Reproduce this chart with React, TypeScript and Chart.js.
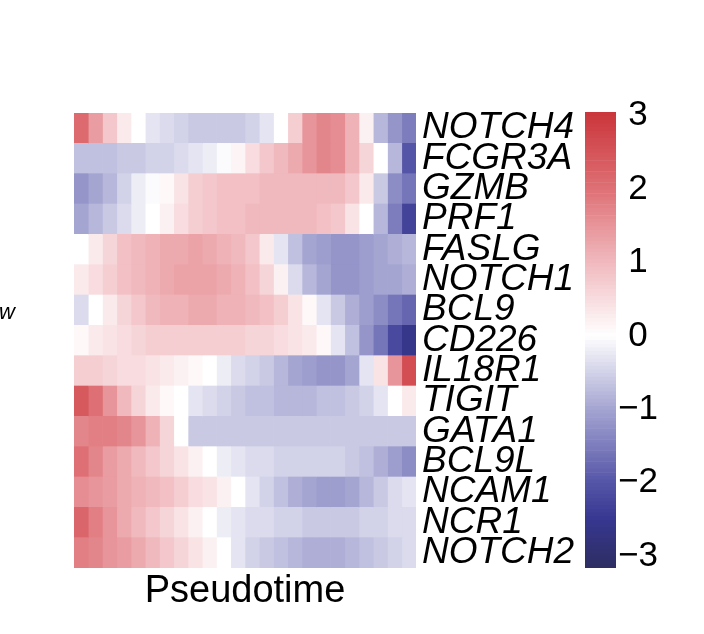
import React, { useEffect, useRef } from "react";
import { Chart, registerables } from "chart.js";

Chart.register(...registerables);

const FONT = '"Liberation Sans", Arial, Helvetica, sans-serif';

const genes = ["NOTCH4", "FCGR3A", "GZMB", "PRF1", "FASLG", "NOTCH1", "BCL9", "CD226", "IL18R1", "TIGIT", "GATA1", "BCL9L", "NCAM1", "NCR1", "NOTCH2"];

const NOTCH4 = [2.1, 1.4, 0.8, 0.3, 0, -0.3, -0.4, -0.5, -0.6, -0.6, -0.6, -0.6, -0.5, -0.3, 0.0, 0.7, 1.5, 1.7, 1.6, 1.1, 0.2, -0.8, -1.2, -1.5];
const FCGR3A = [-0.7, -0.7, -0.7, -0.6, -0.6, -0.5, -0.5, -0.4, -0.3, -0.2, -0.05, 0.15, 0.5, 0.8, 1.0, 1.2, 1.5, 1.7, 1.6, 1.1, 0.6, 0, -0.8, -2.0];
const GZMB = [-1.2, -1.0, -0.8, -0.5, -0.2, -0.05, 0.1, 0.4, 0.7, 0.8, 0.9, 0.9, 0.9, 1.0, 1.0, 1.0, 1.0, 1.0, 1.0, 0.8, 0.3, -0.6, -1.3, -1.6];
const PRF1 = [-1.0, -0.8, -0.6, -0.4, -0.2, 0, 0.2, 0.5, 0.7, 0.8, 0.9, 0.9, 1.0, 1.0, 1.0, 1.0, 1.0, 0.9, 0.8, 0.4, 0, -0.8, -1.5, -2.3];
const FASLG = [0, 0.3, 0.6, 0.9, 1.0, 1.1, 1.2, 1.2, 1.3, 1.2, 1.1, 1.0, 0.8, 0.3, -0.3, -0.7, -1.0, -1.1, -1.2, -1.2, -1.1, -1.0, -0.9, -0.8];
const NOTCH1 = [0.3, 0.5, 0.7, 0.9, 1.0, 1.1, 1.2, 1.3, 1.3, 1.3, 1.2, 1.1, 0.9, 0.6, 0.2, -0.4, -0.8, -1.0, -1.2, -1.2, -1.1, -1.0, -1.0, -0.9];
const BCL9 = [-0.4, 0, 0.3, 0.6, 0.8, 1.0, 1.1, 1.1, 1.2, 1.2, 1.1, 1.1, 1.0, 0.9, 0.7, 0.4, 0.1, -0.3, -0.6, -0.9, -1.1, -1.3, -1.6, -1.8];
const CD226 = [0.1, 0.3, 0.4, 0.5, 0.6, 0.7, 0.7, 0.7, 0.7, 0.7, 0.7, 0.7, 0.6, 0.6, 0.5, 0.4, 0.3, 0.1, -0.3, -0.7, -1.2, -1.6, -2.2, -2.6];
const IL18R1 = [0.7, 0.7, 0.6, 0.5, 0.5, 0.4, 0.3, 0.2, 0.1, 0, -0.2, -0.4, -0.5, -0.6, -0.8, -1.0, -1.1, -1.2, -1.2, -1.0, -0.3, 0.4, 1.5, 2.6];
const TIGIT = [2.4, 2.0, 1.5, 1.0, 0.6, 0.3, 0.1, 0, -0.3, -0.4, -0.5, -0.6, -0.7, -0.7, -0.8, -0.8, -0.8, -0.7, -0.7, -0.6, -0.5, -0.3, 0, 0.3];
const GATA1 = [1.7, 1.8, 1.8, 1.7, 1.5, 1.1, 0.6, 0, -0.6, -0.6, -0.6, -0.6, -0.6, -0.6, -0.6, -0.6, -0.6, -0.6, -0.6, -0.6, -0.6, -0.6, -0.6, -0.6];
const BCL9L = [2.0, 1.7, 1.4, 1.2, 1.0, 0.8, 0.6, 0.4, 0.2, 0, -0.2, -0.3, -0.4, -0.4, -0.5, -0.5, -0.5, -0.5, -0.5, -0.6, -0.7, -0.9, -1.1, -1.3];
const NCAM1 = [1.6, 1.5, 1.4, 1.2, 1.1, 1.0, 0.9, 0.7, 0.5, 0.4, 0.2, 0, -0.3, -0.5, -0.7, -0.9, -1.0, -1.1, -1.1, -1.0, -0.8, -0.6, -0.4, -0.3];
const NCR1 = [2.2, 1.8, 1.5, 1.2, 1.0, 0.8, 0.6, 0.4, 0.2, 0, -0.2, -0.3, -0.4, -0.4, -0.5, -0.5, -0.6, -0.6, -0.6, -0.6, -0.5, -0.5, -0.4, -0.4];
const NOTCH2 = [1.8, 1.7, 1.5, 1.4, 1.2, 1.0, 0.8, 0.6, 0.4, 0.2, 0, -0.3, -0.5, -0.6, -0.7, -0.8, -0.9, -0.9, -0.9, -0.8, -0.7, -0.6, -0.5, -0.4];

const rows = [NOTCH4, FCGR3A, GZMB, PRF1, FASLG, NOTCH1, BCL9, CD226, IL18R1, TIGIT, GATA1, BCL9L, NCAM1, NCR1, NOTCH2];

const colorTicks = [-3, -2, -1, 0, 1, 2, 3];
const colorMin = -3.16;
const colorMax = 3.05;

const stops: [number, number[]][] = [
  [-3.2, [45, 45, 95]],
  [-2.5, [55, 55, 145]],
  [-2, [85, 85, 168]],
  [-1, [165, 165, 210]],
  [0, [255, 255, 255]],
  [1, [240, 185, 190]],
  [2, [222, 112, 117]],
  [3.1, [200, 50, 55]],
];

function colorFor(v: number): string {
  if (v <= stops[0][0]) return `rgb(${stops[0][1].join(",")})`;
  for (let i = 1; i < stops.length; i++) {
    if (v <= stops[i][0]) {
      const [a, ca] = stops[i - 1];
      const [b, cb] = stops[i];
      const t = (v - a) / (b - a);
      const c = ca.map((x, k) => Math.round(x + (cb[k] - x) * t));
      return `rgb(${c.join(",")})`;
    }
  }
  return `rgb(${stops[stops.length - 1][1].join(",")})`;
}

function Heatmap() {
  const ref = useRef<HTMLCanvasElement>(null);
  useEffect(() => {
    const nCol = rows[0].length;
    const datasets = Array.from({ length: nCol }, (_, j) => ({
      label: `bin${j + 1}`,
      data: genes.map(() => 1),
      backgroundColor: rows.map((r) => colorFor(r[j])),
      borderWidth: 0,
      barPercentage: 1,
      categoryPercentage: 1,
    }));
    const chart = new Chart(ref.current!, {
      type: "bar",
      data: { labels: genes, datasets },
      options: {
        indexAxis: "y",
        animation: false,
        responsive: false,
        layout: { padding: { left: 74, top: 113, right: 118, bottom: 20 } },
        plugins: { legend: { display: false }, tooltip: { enabled: false } },
        scales: {
          x: {
            stacked: true,
            min: 0,
            max: nCol,
            grid: { display: false, drawTicks: false },
            border: { display: false },
            ticks: { display: false },
            title: {
              display: true,
              text: "Pseudotime",
              color: "#000",
              font: { family: FONT, size: 38 },
              padding: 0,
            },
            afterFit: (s: any) => {
              s.height = 46;
            },
          },
          y: {
            stacked: true,
            position: "right",
            grid: { display: false, drawTicks: false },
            border: { display: false },
            ticks: {
              color: "#000",
              padding: 6,
              autoSkip: false,
              font: { family: FONT, size: 37, style: "italic" },
            },
            afterFit: (s: any) => {
              s.width = 170;
            },
          },
        },
      },
    } as any);
    return () => chart.destroy();
  }, []);
  return <canvas ref={ref} width={704} height={634} />;
}

function ColorBar() {
  const ref = useRef<HTMLCanvasElement>(null);
  useEffect(() => {
    const step = 0.05;
    const segs: number[] = [];
    for (let v = colorMin; v < colorMax; v += step) segs.push(v);
    const datasets = segs.map((v) => ({
      data: [[v, Math.min(v + step, colorMax)]],
      backgroundColor: colorFor(v + step / 2),
      borderWidth: 0,
      barPercentage: 1,
      categoryPercentage: 1,
      grouped: false,
    }));
    const chart = new Chart(ref.current!, {
      type: "bar",
      data: { labels: ["scale"], datasets },
      options: {
        animation: false,
        responsive: false,
        layout: { padding: { left: 0, top: 112, right: 0, bottom: 66 } },
        plugins: { legend: { display: false }, tooltip: { enabled: false } },
        scales: {
          x: { display: false },
          y: {
            position: "right",
            min: colorMin,
            max: colorMax,
            grid: { display: false, drawTicks: false },
            border: { display: false },
            afterBuildTicks: (s: any) => {
              s.ticks = colorTicks.map((v) => ({ value: v }));
            },
            ticks: {
              color: "#000",
              padding: 2,
              crossAlign: "center",
              font: { family: FONT, size: 35 },
              callback: (v: any) => (Number(v) < 0 ? "\u2212" + Math.abs(Number(v)) : String(v)),
            },
            afterFit: (s: any) => {
              s.width = 88;
            },
          },
        },
      },
    } as any);
    return () => chart.destroy();
  }, []);
  return <canvas ref={ref} width={119} height={634} />;
}

export default function App() {
  return (
    <div style={{ position: "absolute", left: 0, top: 0, width: 704, height: 634, background: "#fff", overflow: "hidden" }}>
      <div style={{ position: "absolute", left: 0, top: 0 }}>
        <Heatmap />
      </div>
      <div style={{ position: "absolute", left: 585, top: 0 }}>
        <ColorBar />
      </div>
      <div
        style={{
          position: "absolute",
          left: -1,
          top: 301,
          fontFamily: FONT,
          fontStyle: "italic",
          fontSize: 22,
          lineHeight: "22px",
          color: "#000",
        }}
      >
        w
      </div>
    </div>
  );
}
